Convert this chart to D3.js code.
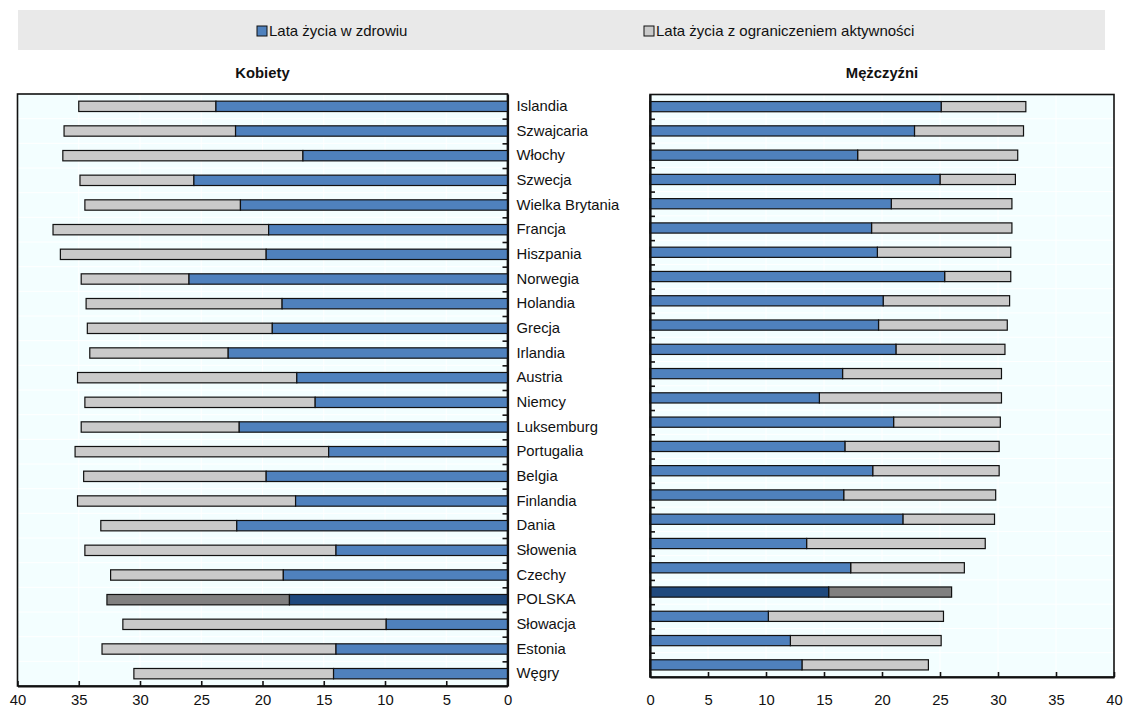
<!DOCTYPE html>
<html>
<head>
<meta charset="utf-8">
<script src="https://cdn.jsdelivr.net/npm/d3@7"></script>
<style>
  html, body { margin: 0; padding: 0; background: #fff; }
  svg text { font-family: "Liberation Sans", Arial, sans-serif; fill: #111; }
</style>
</head>
<body>
<svg id="chart" width="1123" height="718"></svg>
<script>
// Oczekiwana dalsza długość życia w wieku 50 lat (lata)
const countries = [
  "Islandia", "Szwajcaria", "Włochy", "Szwecja", "Wielka Brytania", "Francja",
  "Hiszpania", "Norwegia", "Holandia", "Grecja", "Irlandia", "Austria",
  "Niemcy", "Luksemburg", "Portugalia", "Belgia", "Finlandia", "Dania",
  "Słowenia", "Czechy", "POLSKA", "Słowacja", "Estonia", "Węgry"
];
const highlight = "POLSKA";

// Kobiety: lata w zdrowiu oraz łączna długość życia
const womenHealthy = [23.8, 22.2, 16.7, 25.6, 21.8, 19.5, 19.7, 26.0, 18.4, 19.2, 22.8, 17.2,
                      15.7, 21.9, 14.6, 19.7, 17.3, 22.1, 14.0, 18.3, 17.8, 9.9, 14.0, 14.2];
const womenTotal   = [35.0, 36.2, 36.3, 34.9, 34.5, 37.1, 36.5, 34.8, 34.4, 34.3, 34.1, 35.1,
                      34.5, 34.8, 35.3, 34.6, 35.1, 33.2, 34.5, 32.4, 32.7, 31.4, 33.1, 30.5];

// Mężczyźni: lata w zdrowiu oraz łączna długość życia
const menHealthy = [25.1, 22.8, 17.9, 25.0, 20.8, 19.1, 19.6, 25.4, 20.1, 19.7, 21.2, 16.6,
                    14.6, 21.0, 16.8, 19.2, 16.7, 21.8, 13.5, 17.3, 15.4, 10.2, 12.1, 13.1];
const menTotal   = [32.4, 32.2, 31.7, 31.5, 31.2, 31.2, 31.1, 31.1, 31.0, 30.8, 30.6, 30.3,
                    30.3, 30.2, 30.1, 30.1, 29.8, 29.7, 28.9, 27.1, 26.0, 25.3, 25.1, 24.0];

const xTicks = [0, 5, 10, 15, 20, 25, 30, 35, 40];
const legendLabels = ["Lata życia w zdrowiu", "Lata życia z ograniczeniem aktywności"];
const panelTitles = ["Kobiety", "Mężczyźni"];

const colors = {
  healthy: "#4f81bd", limited: "#cacaca",
  healthyHi: "#1f497d", limitedHi: "#808080",
  plotBg: "#f3feff"
};
const fontSize = 14.8;

const svg = d3.select("#chart");

// Legenda
svg.append("rect").attr("x", 18).attr("y", 10).attr("width", 1087).attr("height", 40)
  .attr("fill", "#e9e9e9");
const legendItems = [
  { label: legendLabels[0], color: colors.healthy, x: 257 },
  { label: legendLabels[1], color: colors.limited, x: 644 }
];
legendItems.forEach(d => {
  const g = svg.append("g").attr("transform", `translate(${d.x},26)`);
  g.append("rect").attr("width", 10).attr("height", 10)
    .attr("fill", d.color).attr("stroke", "#111").attr("stroke-width", 1);
  g.append("text").attr("x", 12).attr("y", 5).attr("dy", "0.35em")
    .attr("font-size", 15).text(d.label);
});

function drawPanel(opts) {
  const { healthy, total, xRange, yRange, mirrored, title, labelSide } = opts;
  const n = countries.length;
  const x = d3.scaleLinear().domain([0, 40]).range(xRange);
  const y = d3.scaleBand().domain(countries).range(yRange)
    .paddingInner(0.58).paddingOuter(0.29);
  const yIdx = d3.scaleLinear().domain([0, n]).range(yRange);

  const x0 = Math.min(xRange[0], xRange[1]);
  const x1 = Math.max(xRange[0], xRange[1]);
  const g = svg.append("g");

  // Tło obszaru wykresu
  g.append("rect").attr("x", x0).attr("y", yRange[0])
    .attr("width", x1 - x0).attr("height", yRange[1] - yRange[0])
    .attr("fill", colors.plotBg);

  // Delikatna siatka
  g.append("g").selectAll("line").data(xTicks.slice(1, -1)).join("line")
    .attr("x1", d => x(d)).attr("x2", d => x(d))
    .attr("y1", yRange[0]).attr("y2", yRange[1])
    .attr("stroke", "#ffffff").attr("stroke-width", 1);
  g.append("g").selectAll("line").data(d3.range(1, n)).join("line")
    .attr("x1", x0).attr("x2", x1)
    .attr("y1", d => yIdx(d)).attr("y2", d => yIdx(d))
    .attr("stroke", "#ffffff").attr("stroke-width", 1);

  // Ramka
  g.append("rect").attr("x", x0).attr("y", yRange[0])
    .attr("width", x1 - x0).attr("height", yRange[1] - yRange[0])
    .attr("fill", "none").attr("stroke", "#111").attr("stroke-width", 1.6);

  const rows = countries.map((c, i) => ({ c, h: healthy[i], t: total[i] }));
  const bars = g.append("g").attr("stroke", "#111").attr("stroke-width", 1.2);
  // Lata z ograniczeniem aktywności (od lat w zdrowiu do łącznej długości)
  bars.selectAll("rect.limited").data(rows).join("rect").attr("class", "limited")
    .attr("x", d => Math.min(x(d.h), x(d.t)))
    .attr("width", d => Math.abs(x(d.t) - x(d.h)))
    .attr("y", d => y(d.c)).attr("height", y.bandwidth())
    .attr("fill", d => d.c === highlight ? colors.limitedHi : colors.limited);
  // Lata w zdrowiu
  bars.selectAll("rect.healthy").data(rows).join("rect").attr("class", "healthy")
    .attr("x", d => Math.min(x(0), x(d.h)))
    .attr("width", d => Math.abs(x(d.h) - x(0)))
    .attr("y", d => y(d.c)).attr("height", y.bandwidth())
    .attr("fill", d => d.c === highlight ? colors.healthyHi : colors.healthy);

  // Oś X
  const xAxis = g.append("g").attr("transform", `translate(0,${yRange[1]})`)
    .call(d3.axisBottom(x).tickValues(xTicks).tickFormat(d3.format("d"))
      .tickSize(-5).tickSizeOuter(0).tickPadding(opts.xPad));
  xAxis.select(".domain").attr("stroke", "#111").attr("stroke-width", 2.2);
  xAxis.selectAll(".tick line").attr("stroke", "#111").attr("stroke-width", 1.6);
  xAxis.selectAll("text").attr("font-size", fontSize).attr("font-family", null).attr("fill", null);

  // Oś kategorii: znaczniki na granicach wierszy
  const axisX = x(0);
  const tickAxis = mirrored ? d3.axisLeft(yIdx) : d3.axisRight(yIdx);
  const yTicks = g.append("g").attr("transform", `translate(${axisX},0)`)
    .call(tickAxis.tickValues(d3.range(1, n)).tickFormat("").tickSize(5).tickSizeOuter(0));
  yTicks.select(".domain").attr("stroke", "#111").attr("stroke-width", 2.2);
  yTicks.selectAll(".tick line").attr("stroke", "#111").attr("stroke-width", 1.6);

  // Nazwy krajów
  if (labelSide) {
    const lab = g.append("g").attr("transform", `translate(${axisX},0)`)
      .call(d3.axisRight(y).tickSize(0).tickPadding(9));
    lab.select(".domain").remove();
    lab.selectAll("text").attr("font-size", fontSize).attr("font-family", null).attr("fill", null);
  }

  // Tytuł panelu
  svg.append("text").attr("x", (x0 + x1) / 2).attr("y", 73).attr("dy", "0.35em")
    .attr("text-anchor", "middle").attr("font-size", fontSize).attr("font-weight", "bold")
    .text(title);
}

drawPanel({
  healthy: womenHealthy, total: womenTotal,
  xRange: [507.5, 17.5], yRange: [94, 686], mirrored: true,
  title: panelTitles[0], labelSide: true, xPad: 8
});
drawPanel({
  healthy: menHealthy, total: menTotal,
  xRange: [650, 1114], yRange: [94.5, 677], mirrored: false,
  title: panelTitles[1], labelSide: false, xPad: 17
});
</script>
</body>
</html>
